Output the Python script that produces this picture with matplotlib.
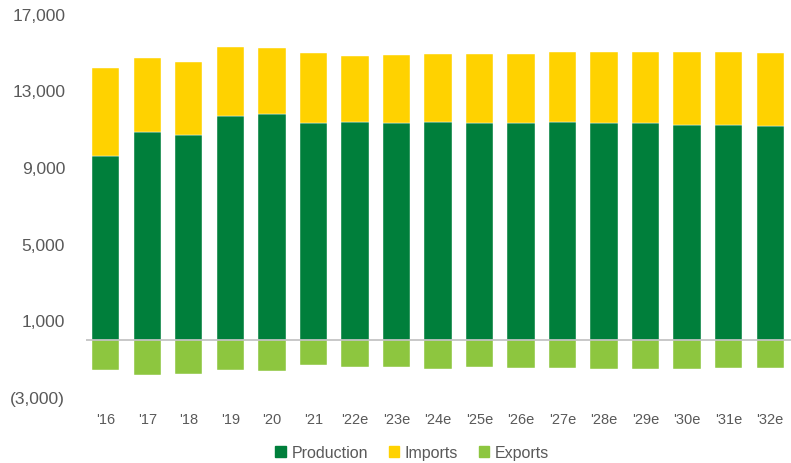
import matplotlib
matplotlib.use("Agg")
import matplotlib.pyplot as plt
from matplotlib.patches import Patch
import numpy as np

categories = ["'16", "'17", "'18", "'19", "'20", "'21", "'22e", "'23e", "'24e",
              "'25e", "'26e", "'27e", "'28e", "'29e", "'30e", "'31e", "'32e"]
production = [9550, 10850, 10660, 11670, 11770, 11290, 11370, 11320, 11340,
              11290, 11270, 11340, 11290, 11290, 11180, 11180, 11130]
totals = [14170, 14710, 14480, 15280, 15190, 14950, 14790, 14840, 14900,
          14900, 14900, 15000, 15000, 15000, 15000, 15000, 14950]
imports = [t - p for t, p in zip(totals, production)]
exports = [-1580, -1840, -1790, -1600, -1630, -1350, -1460, -1460, -1530,
           -1460, -1510, -1510, -1550, -1550, -1550, -1490, -1490]
yticks = [17000, 13000, 9000, 5000, 1000, -3000]
ytick_labels = ["17,000", "13,000", "9,000", "5,000", "1,000", "(3,000)"]

c_prod = "#007F3B"
c_imp = "#FFD200"
c_exp = "#8DC63F"
gray = "#595959"
font = "Liberation Sans"

fig = plt.figure(figsize=(7.91, 4.64), dpi=100)
ax = fig.add_axes([0.1087, 0.1422, 0.8913, 0.8263])

x = np.arange(len(categories))
w = 0.66
ax.bar(x, production, w, color=c_prod, edgecolor="white", linewidth=0.3, zorder=2)
ax.bar(x, imports, w, bottom=production, color=c_imp, edgecolor="white", linewidth=0.3, zorder=2)
ax.bar(x, exports, w, color=c_exp, edgecolor="white", linewidth=0.3, zorder=2)

ax.axhline(0, color="#BFBFBF", linewidth=1.2, zorder=3)
ax.set_xlim(-0.475, len(categories) - 0.5)
ax.set_ylim(-3000, 17000)
ax.set_yticks(yticks)
ax.set_yticklabels(ytick_labels, fontsize=12.5, color=gray, fontname=font)
ax.set_xticks(x)
ax.set_xticklabels(categories, fontsize=10.5, color=gray, fontname=font)
ax.tick_params(axis="both", length=0)
ax.tick_params(axis="y", pad=15)
ax.tick_params(axis="x", pad=11)
for s in ax.spines.values():
    s.set_visible(False)

handles = [Patch(color=c_prod, label="Production"),
           Patch(color=c_imp, label="Imports"),
           Patch(color=c_exp, label="Exports")]
fig.legend(handles=handles, loc="center", bbox_to_anchor=(0.521, 0.022), ncol=3,
           frameon=False, handlelength=0.65, handleheight=0.65, handletextpad=0.35,
           columnspacing=1.3, prop={"family": font, "size": 11.5}, labelcolor=gray)

fig.savefig("out.png", dpi=100)
